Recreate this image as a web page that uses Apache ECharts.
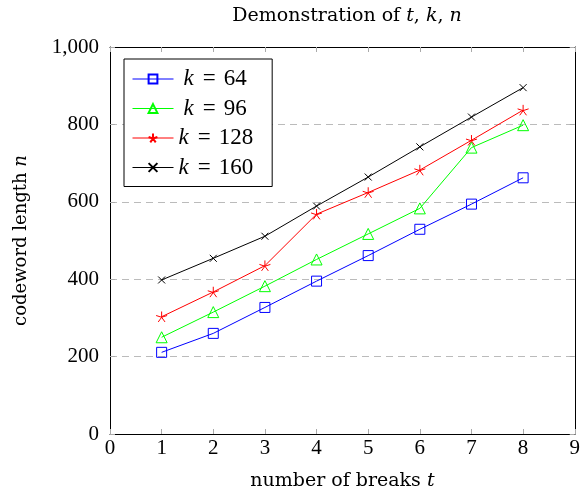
<!DOCTYPE html>
<html>
<head>
<meta charset="utf-8">
<script src="https://cdn.jsdelivr.net/npm/echarts@6/dist/echarts.min.js"></script>
<style>
  html, body { margin: 0; padding: 0; background: #fff; }
  #chart { width: 583px; height: 497px; }
</style>
</head>
<body>
<div id="chart"></div>
<script>
  // number of breaks t
  const breaks = [1, 2, 3, 4, 5, 6, 7, 8];
  // codeword length n for each k
  const k64 = [211, 260, 327, 395, 461, 529, 594, 662];
  const k96 = [250, 315, 382, 451, 517, 583, 740, 798];
  const k128 = [303, 367, 435, 568, 624, 682, 759, 837];
  const k160 = [398, 454, 511, 589, 664, 742, 819, 895];
  const xTicks = [0, 1, 2, 3, 4, 5, 6, 7, 8, 9];
  const yTicks = [0, 200, 400, 600, 800, 1000];

  const serif = 'Liberation Serif';
  const wide = 'DejaVu Serif';
  const starPath = 'path://M0,0L0,-1M0,0L0.951,-0.309M0,0L0.588,0.809M0,0L-0.588,0.809M0,0L-0.951,-0.309';
  const crossPath = 'path://M-1,-1L1,1M-1,1L1,-1';

  function pairs(ys) {
    return breaks.map(function (x, i) { return [x, ys[i]]; });
  }

  function mkSeries(name, ys, color, symbol, size) {
    return {
      name: name,
      type: 'line',
      data: pairs(ys),
      symbol: symbol,
      symbolSize: size,
      symbolKeepAspect: true,
      showAllSymbol: true,
      lineStyle: { color: color, width: 1 },
      itemStyle: { color: 'rgba(0,0,0,0)', borderColor: color, borderWidth: 1 },
      emphasis: { disabled: true },
      animation: false
    };
  }

  const chart = echarts.init(document.getElementById('chart'));

  const tickStyle = { show: true, inside: true, length: 5, lineStyle: { color: '#aaa', width: 1 } };
  const frame = { show: true, onZero: false, lineStyle: { color: '#000', width: 1 } };

  chart.setOption({
    backgroundColor: '#fff',
    title: {
      text: 'Demonstration of {i|t}, {i|k}, {i|n}',
      left: 342,
      textAlign: 'center',
      top: 2,
      textStyle: {
        fontFamily: wide, fontSize: 19, fontWeight: 'normal', color: '#000',
        rich: { i: { fontFamily: wide, fontSize: 19, fontStyle: 'italic', color: '#000' } }
      }
    },
    legend: {
      orient: 'vertical',
      left: 124,
      top: 59,
      padding: [8, 19, 7, 8],
      itemGap: 5.5,
      itemWidth: 41,
      itemHeight: 11,
      borderColor: '#000',
      borderWidth: 1,
      backgroundColor: '#fff',
      selectedMode: false,
      lineStyle: { width: 1 },
      data: ['k = 64', 'k = 96', 'k = 128', 'k = 160'],
      formatter: function (name) {
        const num = name.slice(4);
        const sp = num.length < 3 ? '{s|}' : '';
        return sp + '{i|k}{e|=}{n|' + num + '}';
      },
      textStyle: {
        fontFamily: serif, fontSize: 23, color: '#000', lineHeight: 24,
        rich: {
          s: { width: 5, lineHeight: 24 },
          i: { fontFamily: serif, fontSize: 23, fontStyle: 'italic', color: '#000', lineHeight: 24 },
          e: { fontFamily: serif, fontSize: 23, color: '#000', padding: [0, 8, 0, 9], lineHeight: 24 },
          n: { fontFamily: serif, fontSize: 23, color: '#000', lineHeight: 24 }
        }
      }
    },
    grid: { left: 110, right: 8, top: 47, bottom: 63 },
    xAxis: [{
      type: 'value',
      min: 0, max: 9, interval: 1,
      position: 'bottom',
      name: 'number of breaks {i|t}',
      nameLocation: 'middle',
      nameGap: 38,
      nameTextStyle: {
        fontFamily: wide, fontSize: 19, color: '#000',
        rich: { i: { fontFamily: wide, fontSize: 19, fontStyle: 'italic', color: '#000' } }
      },
      axisLine: frame,
      axisTick: tickStyle,
      splitLine: { show: false },
      axisLabel: { fontFamily: serif, fontSize: 21, color: '#000', margin: 4,
        formatter: function (v) { return xTicks.indexOf(v) >= 0 ? String(v) : ''; } }
    }, {
      type: 'value',
      min: 0, max: 9, interval: 1,
      position: 'top',
      axisLine: frame,
      axisTick: tickStyle,
      splitLine: { show: false },
      axisLabel: { show: false }
    }],
    yAxis: [{
      type: 'value',
      min: 0, max: 1000, interval: 200,
      position: 'left',
      name: 'codeword length {i|n}',
      nameLocation: 'middle',
      nameGap: 80,
      nameTextStyle: {
        fontFamily: wide, fontSize: 18, color: '#000',
        rich: { i: { fontFamily: wide, fontSize: 18, fontStyle: 'italic', color: '#000' } }
      },
      axisLine: frame,
      axisTick: tickStyle,
      splitLine: { show: true, lineStyle: { color: '#bbb', type: [7, 5], width: 1 } },
      axisLabel: { fontFamily: serif, fontSize: 21, color: '#000', margin: 11,
        formatter: function (v) { return yTicks.indexOf(v) >= 0 ? v.toLocaleString('en-US') : ''; } }
    }, {
      type: 'value',
      min: 0, max: 1000, interval: 200,
      position: 'right',
      axisLine: frame,
      axisTick: tickStyle,
      splitLine: { show: false },
      axisLabel: { show: false }
    }],
    series: [
      mkSeries('k = 64', k64, '#0000ff', 'rect', 10),
      mkSeries('k = 96', k96, '#00ff00', 'triangle', 11),
      mkSeries('k = 128', k128, '#ff0000', starPath, 11),
      mkSeries('k = 160', k160, '#000000', crossPath, 7)
    ]
  });
</script>
</body>
</html>
